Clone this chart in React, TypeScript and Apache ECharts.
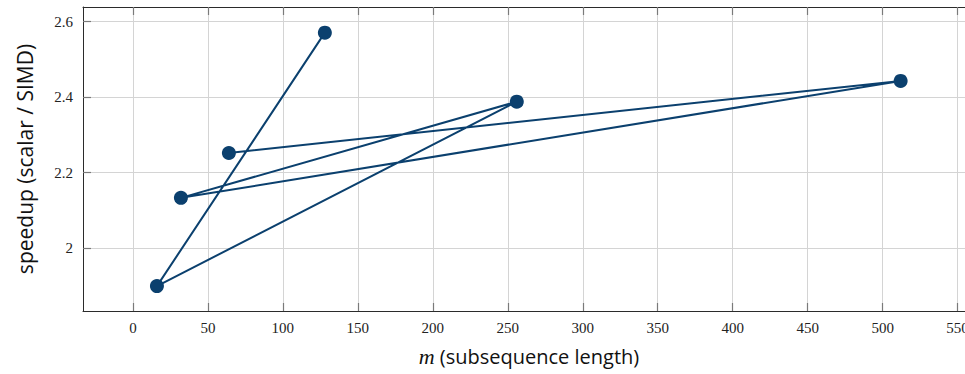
import React, { useEffect, useRef } from "react";
import * as echarts from "echarts";

const seqLength = [128, 16, 256, 32, 512, 64];
const speedup = [2.571, 1.899, 2.388, 2.133, 2.443, 2.252];
const xTicks = [0, 50, 100, 150, 200, 250, 300, 350, 400, 450, 500, 550];
const yTicks = [2.0, 2.2, 2.4, 2.6];

const LINE = "#0b406e";
const SERIF = "'Liberation Serif', 'DejaVu Serif', serif";
const SANS = "'Open Sans', 'DejaVu Sans', sans-serif";

export default function App() {
  const ref = useRef<HTMLDivElement>(null);
  useEffect(() => {
    if (!ref.current) return;
    const chart = echarts.init(ref.current, null, { renderer: "svg" });
    const W = 1000;
    const xMin = -33.3, xMax = 561.6, yMin = 1.833, yMax = 2.639;
    const tickStyle = { show: true, inside: true, length: 8, lineStyle: { color: "#7a7a7a", width: 1.2 } };
    const split = { show: true, lineStyle: { color: "#d4d4d4", width: 1 } };
    const axisLine = { show: true, onZero: false, lineStyle: { color: "#2b2b2b", width: 1 } };
    chart.setOption({
      animation: false,
      grid: { left: 83, top: 7, right: W - 975, bottom: 63, containLabel: false },
      xAxis: [
        {
          type: "value", position: "bottom", min: xMin, max: xMax,
          axisLine,
          axisTick: { ...tickStyle, customValues: xTicks },
          axisLabel: { customValues: xTicks, margin: 9, color: "#222", fontFamily: SERIF, fontSize: 15 },
          splitLine: split,
          name: "{i|m} (subsequence length)",
          nameLocation: "middle", nameGap: 34,
          nameTextStyle: {
            fontFamily: SANS, fontSize: 20, color: "#111",
            rich: { i: { fontFamily: SERIF, fontStyle: "italic", fontSize: 22, color: "#111" } },
          },
        },
        {
          type: "value", position: "top", min: xMin, max: xMax,
          axisLine,
          axisTick: { ...tickStyle, customValues: xTicks },
          axisLabel: { show: false, customValues: xTicks },
          splitLine: { show: false },
        },
      ],
      yAxis: [
        {
          type: "value", position: "left", min: yMin, max: yMax,
          axisLine,
          axisTick: { ...tickStyle, customValues: yTicks },
          axisLabel: {
            customValues: yTicks, margin: 10, color: "#222", fontFamily: SERIF, fontSize: 15,
            formatter: (v: number) => (Math.abs(v - 2) < 1e-9 ? "2" : v.toFixed(1)),
          },
          splitLine: split,
          name: "speedup (scalar / SIMD)",
          nameLocation: "middle", nameGap: 48, nameRotate: 90,
          nameTextStyle: { fontFamily: SANS, fontSize: 21, color: "#111" },
        },
        {
          type: "value", position: "right", min: yMin, max: yMax,
          axisLine,
          axisTick: { ...tickStyle, customValues: yTicks },
          axisLabel: { show: false, customValues: yTicks },
          splitLine: { show: false },
        },
      ],
      series: [
        {
          type: "line",
          data: seqLength.map((x, i) => [x, speedup[i]]),
          xAxisIndex: 0, yAxisIndex: 0,
          lineStyle: { color: LINE, width: 2 },
          itemStyle: { color: LINE },
          symbol: "circle", symbolSize: 14, showSymbol: true,
          z: 5,
        },
      ],
    });
    return () => chart.dispose();
  }, []);
  return (
    <div style={{ position: "fixed", left: 0, top: 0, width: 965, height: 374, overflow: "hidden", background: "#fff" }}>
      <div ref={ref} style={{ width: 1000, height: 374 }} />
    </div>
  );
}
